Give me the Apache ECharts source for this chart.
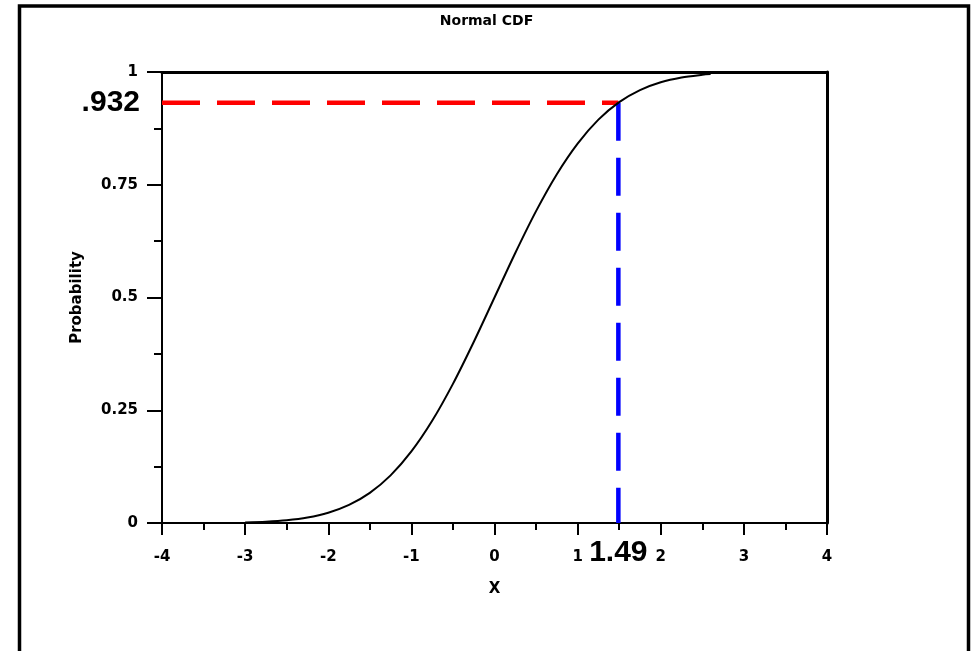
<!DOCTYPE html>
<html>
<head>
<meta charset="utf-8">
<script src="https://cdn.jsdelivr.net/npm/echarts@6/dist/echarts.min.js"></script>
<style>html,body{margin:0;padding:0;background:#fff}#c{width:973px;height:651px}</style>
</head>
<body>
<div id="c"></div>
<script>
// Curve
var cdfX = [-3, -2.75, -2.5, -2.25, -2, -1.75, -1.5, -1.25, -1, -0.75, -0.5, -0.25, 0, 0.25, 0.5, 0.75, 1, 1.25, 1.5, 1.75, 2, 2.25, 2.5, 2.6];
var cdfY = [0.0013, 0.003, 0.0062, 0.0122, 0.0228, 0.0401, 0.0668, 0.1056, 0.1587, 0.2266, 0.3085, 0.4013, 0.5, 0.5987, 0.6915, 0.7734, 0.8413, 0.8944, 0.9332, 0.9599, 0.9772, 0.9878, 0.9938, 0.9953];
// Highlighted point
var markX = 1.49;
var markY = 0.932;
var markXLabel = '1.49';
var markYLabel = '.932';
// Axes
var xTicks = [-4, -3, -2, -1, 0, 1, 2, 3, 4];
var yTicks = [0, 0.25, 0.5, 0.75, 1];

var tickFont = {fontFamily: 'DejaVu Sans', fontWeight: 'bold', fontSize: 15, color: '#000'};
var bigFont = {fontFamily: 'Liberation Sans', fontWeight: 'bold', fontSize: 30, color: '#000'};

var curve = cdfX.map(function (x, i) { return [x, cdfY[i]]; });

var chart = echarts.init(document.getElementById('c'), null, {renderer: 'canvas'});
chart.setOption({
  animation: false,
  backgroundColor: '#fff',
  title: {
    text: 'Normal CDF', left: 'center', top: 9,
    textStyle: {fontFamily: 'DejaVu Sans', fontWeight: 'bold', fontSize: 14, color: '#000'}
  },
  graphic: [{
    type: 'rect', silent: true,
    shape: {x: 19.5, y: 6, width: 949, height: 700},
    style: {fill: 'none', stroke: '#000', lineWidth: 3.5}
  }],
  grid: {left: 162, top: 72, width: 665, height: 451},
  xAxis: [{
    type: 'value', min: xTicks[0], max: xTicks[xTicks.length - 1], interval: 1,
    position: 'bottom',
    name: 'X', nameLocation: 'middle', nameGap: 59,
    nameTextStyle: {fontFamily: 'DejaVu Sans', fontWeight: 'bold', fontSize: 15, color: '#000'},
    axisLine: {onZero: false, lineStyle: {color: '#000', width: 2}},
    axisTick: {inside: false, length: 12, lineStyle: {color: '#000', width: 2}},
    minorTick: {show: true, splitNumber: 2, length: 7, lineStyle: {color: '#000', width: 2}},
    axisLabel: Object.assign({margin: 27}, tickFont),
    splitLine: {show: false}
  }, {
    type: 'value', min: xTicks[0], max: xTicks[xTicks.length - 1], interval: 1,
    position: 'top',
    axisLine: {onZero: false, lineStyle: {color: '#000', width: 3}},
    axisTick: {show: false}, axisLabel: {show: false}, splitLine: {show: false}
  }],
  yAxis: [{
    type: 'value', min: yTicks[0], max: yTicks[yTicks.length - 1], interval: 0.25,
    position: 'left',
    name: 'Probability', nameLocation: 'middle', nameGap: 77, nameRotate: 90,
    nameTextStyle: {fontFamily: 'DejaVu Sans', fontWeight: 'bold', fontSize: 15, color: '#000'},
    axisLine: {onZero: false, lineStyle: {color: '#000', width: 2}},
    axisTick: {inside: false, length: 15, lineStyle: {color: '#000', width: 2}},
    minorTick: {show: true, splitNumber: 2, length: 8, lineStyle: {color: '#000', width: 2}},
    axisLabel: Object.assign({margin: 24}, tickFont),
    splitLine: {show: false}
  }, {
    type: 'value', min: yTicks[0], max: yTicks[yTicks.length - 1], interval: 0.25,
    position: 'right',
    axisLine: {onZero: false, lineStyle: {color: '#000', width: 3}},
    axisTick: {show: false}, axisLabel: {show: false}, splitLine: {show: false}
  }],
  series: [{
    type: 'line', name: 'cdf', data: curve, smooth: 0.3,
    symbol: 'none', lineStyle: {color: '#000', width: 2}, z: 3
  }, {
    type: 'line', name: 'hline',
    data: [
      {value: [xTicks[0], markY], label: Object.assign({show: true, position: 'left', distance: 22, formatter: markYLabel}, bigFont)},
      {value: [markX, markY]}
    ],
    symbol: 'circle', symbolSize: 0,
    lineStyle: {color: '#ff0000', width: 4.5, type: [38, 17]}, z: 2
  }, {
    type: 'line', name: 'vline',
    data: [
      {value: [markX, markY]},
      {value: [markX, yTicks[0]], label: Object.assign({show: true, position: 'bottom', distance: 15, formatter: markXLabel}, bigFont)}
    ],
    symbol: 'circle', symbolSize: 0,
    lineStyle: {color: '#0000ff', width: 4.5, type: [38, 17]}, z: 2
  }]
});
</script>
</body>
</html>
